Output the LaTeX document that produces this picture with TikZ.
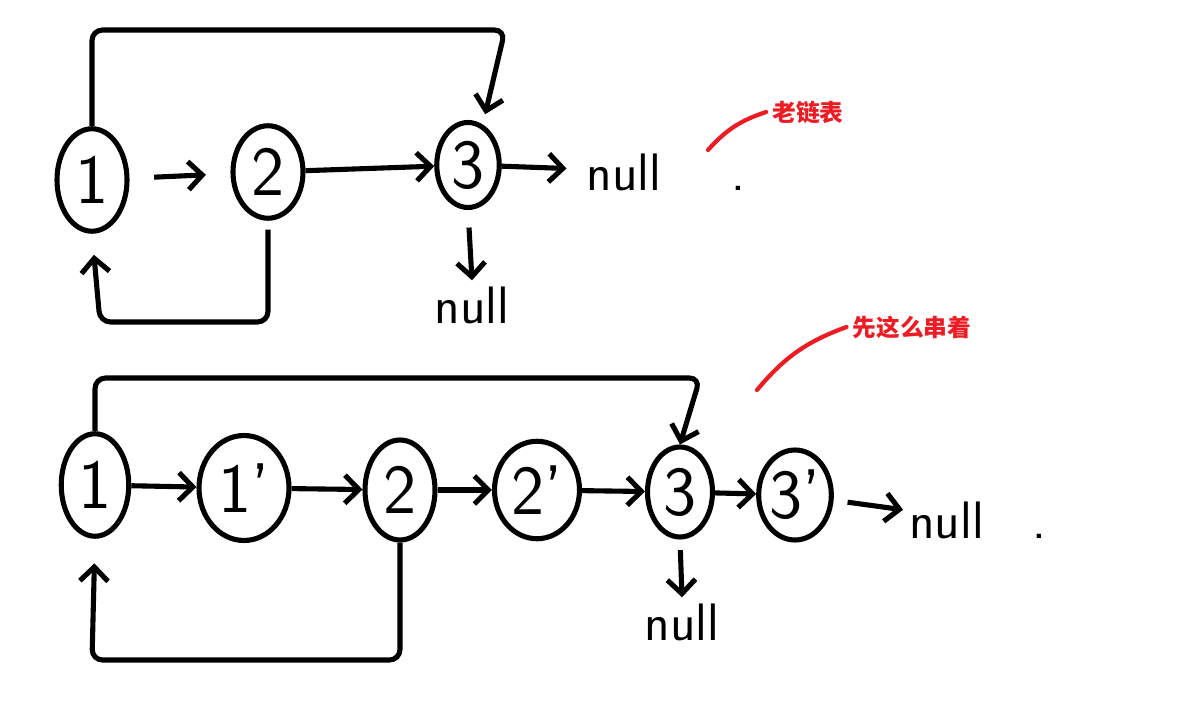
\documentclass[tikz,border=0pt]{standalone}
\usepackage{fontspec}
\newfontfamily\cjk{Noto Sans CJK SC}
\usetikzlibrary{arrows.meta, shapes.geometric}
\definecolor{notered}{RGB}{237,28,36}

\begin{document}
\begin{tikzpicture}[x=0.02cm, y=-0.02cm,
  cell/.style={draw, ellipse, line width=2.9pt, minimum width=1.4cm,
               minimum height=1.95cm, inner sep=0pt,
               font=\sffamily\fontsize{40}{40}\selectfont},
  arr/.style={-{Straight Barb[length=8pt, width=16pt]}, line width=2.9pt},
  link/.style={arr, rounded corners=6pt},
  nil/.style={font=\sffamily\fontsize{30}{30}\selectfont},
  note/.style={text=notered, font=\cjk\bfseries\fontsize{13.5}{15}\selectfont},
  redline/.style={draw=notered, line width=2.4pt, line cap=round}
]
  \useasboundingbox (0,0) rectangle (1204,716);

  % old list
  \node[cell, minimum width=1.4cm, minimum height=2.05cm] (a1) at (92,180) {1};
  \node[cell, minimum width=1.4cm, minimum height=1.85cm] (a2) at (268,172) {2};
  \node[cell, minimum width=1.25cm, minimum height=1.7cm] (a3) at (468,165) {3};
  \node[nil] (anext) at (666,172) {null\hspace{40pt}.};
  \node[nil] (arnd)  at (472,305) {null};

  \draw[arr, shorten <=14pt, shorten >=14pt] (a1) -- (a2);
  \draw[arr] (a2) -- (a3);
  \draw[arr, shorten >=8pt] (a3) -- (anext);
  \draw[link, shorten >=6pt] (a1.north) |- (505,30) -- (a3.70);
  \draw[link, shorten <=5pt, shorten >=12pt] (a2.south) |- (100,322) -- (a1.south);
  \draw[arr, shorten <=10pt] (a3.south) -- (arnd.north);

  % new list
  \node[cell, minimum width=1.35cm, minimum height=2.05cm] (b1)  at (95,485)  {1};
  \node[cell, minimum width=1.8cm,  minimum height=2.1cm]  (b1c) at (244,488) {1'};
  \node[cell, minimum width=1.4cm,  minimum height=2.0cm]  (b2)  at (400,490) {2};
  \node[cell, minimum width=1.7cm,  minimum height=1.95cm] (b2c) at (537,490) {2'};
  \node[cell, minimum width=1.3cm,  minimum height=1.8cm]  (b3)  at (680,492) {3};
  \node[cell, minimum width=1.4cm,  minimum height=1.8cm]  (b3c) at (795,495) {3'};
  \node[nil] (bnext) at (978,520) {null\hspace{28pt}.};
  \node[nil] (brnd)  at (682,622) {null};

  \draw[arr] (b1)  -- (b1c);
  \draw[arr] (b1c) -- (b2);
  \draw[arr] (b2)  -- (b2c);
  \draw[arr] (b2c) -- (b3);
  \draw[arr] (b3)  -- (b3c);
  \draw[arr, shorten <=8pt] (b3c) -- (bnext);
  \draw[link] (b1.north) |- (700,378) -- (b3.north);
  \draw[link, shorten >=14pt] (b2.south) |- (92,660) -- (b1.south);
  \draw[arr, shorten <=6pt] (b3.south) -- (brnd.north);

  % notes
  \coordinate (p1) at (708,150);
  \node[note] (old) at (808,112) {老链表};
  \draw[redline] (p1) to[bend left=15] (old.west);
  \coordinate (p2) at (757,390);
  \node[note] (tmp) at (912,327) {先这么串着};
  \draw[redline] (p2) to[bend left=15] (tmp.west);
\end{tikzpicture}
\end{document}
